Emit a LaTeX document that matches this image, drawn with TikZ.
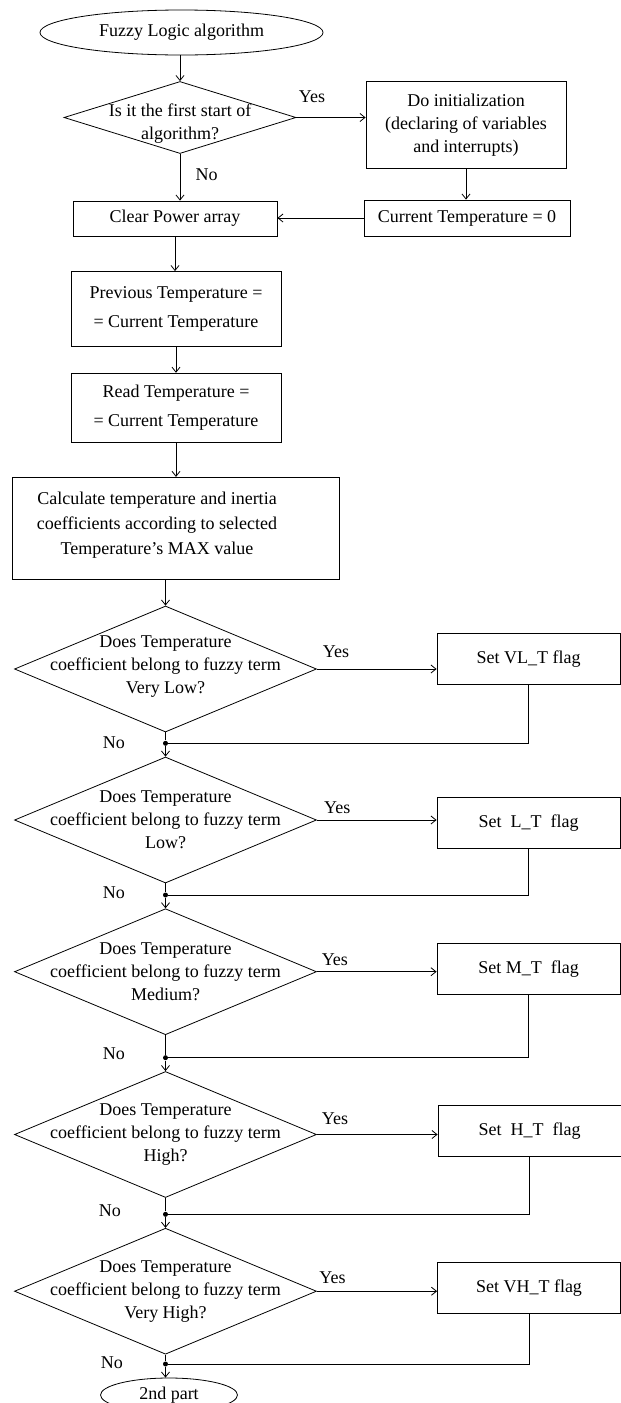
\documentclass[tikz,border=0pt]{standalone}
\usepackage{fontspec}
\setmainfont{Liberation Serif}
\usepackage{tikz}
\usetikzlibrary{shapes.geometric,positioning,arrows.meta}

\begin{document}
\begin{tikzpicture}[x=1pt,y=-1pt,line width=0.8pt,>={Straight Barb[length=5pt,width=8pt]}]%[show background grid]
\tikzstyle{every node} = [font=\fontsize{18}{23}\selectfont, align=center]
\tikzstyle{terminal} = [draw, ellipse, inner sep=0pt]
\tikzstyle{block} = [draw, rectangle, inner sep=0pt]
\tikzstyle{decision} = [draw, diamond, inner sep=0pt, minimum width=302pt, minimum height=126pt]
\tikzstyle{flagbox} = [draw, rectangle, inner sep=0pt, minimum width=183pt, minimum height=51pt]
\tikzstyle{junction} = [fill, circle, inner sep=0pt, minimum size=5pt]
\tikzstyle{twolines} = [font=\fontsize{18}{29}\selectfont]

\useasboundingbox (0,0) rectangle (621,1403);

% first part
\node (start) [terminal, minimum width=283pt, minimum height=45pt] at (181.5,32.5) {Fuzzy Logic algorithm};
\node (first) [decision, minimum width=232pt, minimum height=72pt] at (180,117.5) {};
\node (firsttext) at ([yshift=-6pt]first.center) {Is it the first start of\\algorithm?};
\node (init) [block, minimum width=200pt, minimum height=87pt] at (466,125) {Do initialization\\(declaring of variables\\and interrupts)};
\node (curtemp) [block, minimum width=206pt, minimum height=36pt] at (467,218) {Current Temperature = 0};
\node (clear) [block, minimum width=204pt, minimum height=35pt] at (175,218.5) {Clear Power array};
\node (prev) [block, twolines, minimum width=210pt, minimum height=75pt] at (176,309) {Previous Temperature =\\= Current Temperature};
\node (read) [block, twolines, minimum width=210pt, minimum height=69pt] at (176,407.7) {Read Temperature =\\= Current Temperature};
\node (calc) [block, minimum width=327pt, minimum height=102pt] at (176,528.3) {};
\node (calctext) [font=\fontsize{18}{25}\selectfont] at ([xshift=-19pt,yshift=3pt]calc.center) {Calculate temperature and inertia\\coefficients according to selected\\Temperature's MAX value};

\draw[->] (start.south -| first.north) -- (first.north);
\draw[->] (first.east) -- node (yes0) [pos=.225, yshift=21pt] {Yes} (first.east -| init.west);
\draw[->] (first.south) -- node (no0) [right=12pt, pos=.45] {No} (first.south |- clear.north);
\draw[->] (init.south) -- (init.south |- curtemp.north);
\draw[->] (curtemp.west) -- (curtemp.west -| clear.east);
\draw[->] (clear.south) -- (clear.south |- prev.north);
\draw[->] (prev.south) -- (read.north);
\draw[->] (read.south) -- (read.south |- calc.north);

% fuzzy terms
\node (dvl) [decision] at (165.5,669) {};
\node (tvl) at ([yshift=2pt]dvl.center) {Does Temperature\\coefficient belong to fuzzy term\\Very Low?};
\node (fvl) [flagbox] at (528.5,658.8) {Set VL\_T flag};
\node (j1) [junction] at (165.5,743.3) {};
\node (no1) [left=34pt of j1, yshift=1pt] {No};

\node (dl) [decision] at (165.5,820) {};
\node (tl) at (dl.center) {Does Temperature\\coefficient belong to fuzzy term\\Low?};
\node (fl) [flagbox] at (528.5,823) {Set\ \ L\_T\ \ flag};
\node (j2) [junction] at (165.5,895) {};
\node (no2) [left=34pt of j2, yshift=2pt] {No};

\node (dm) [decision] at (165.5,971.7) {};
\node (tm) at (dm.center) {Does Temperature\\coefficient belong to fuzzy term\\Medium?};
\node (fm) [flagbox] at (528.5,968.8) {Set M\_T\ \ flag};
\node (j3) [junction] at (165.5,1057.7) {};
\node (no3) [left=34pt of j3, yshift=4pt] {No};

\node (dh) [decision] at (165.5,1134.5) {};
\node (th) at (dh.center) {Does Temperature\\coefficient belong to fuzzy term\\High?};
\node (fh) [flagbox] at (529.5,1131.3) {Set\ \ H\_T\ \ flag};
\node (j4) [junction] at (165.5,1214.3) {};
\node (no4) [left=38pt of j4, yshift=4pt] {No};

\node (dvh) [decision] at (165.5,1291.2) {};
\node (tvh) at (dvh.center) {Does Temperature\\coefficient belong to fuzzy term\\Very High?};
\node (fvh) [flagbox] at (529,1288.3) {Set VH\_T flag};
\node (j5) [junction] at (165.5,1364) {};
\node (no5) [left=36pt of j5, yshift=1pt] {No};

\node (stop) [terminal, minimum width=137pt, minimum height=34pt] at (169,1395) {2nd part};

\draw[->] (calc.south -| dvl.north) -- (dvl.north);
\draw[->] (dvl.east) -- node (yes1) [pos=.16, yshift=17pt] {Yes} (dvl.east -| fvl.west);
\draw (dvl.south) -- (j1);
\draw (fvl.south) |- (j1);
\draw[->] (j1) -- (dl.north);

\draw[->] (dl.east) -- node (yes2) [pos=.17, yshift=12pt] {Yes} (dl.east -| fl.west);
\draw (dl.south) -- (j2);
\draw (fl.south) |- (j2);
\draw[->] (j2) -- (dm.north);

\draw[->] (dm.east) -- node (yes3) [pos=.15, yshift=12.5pt] {Yes} (dm.east -| fm.west);
\draw (dm.south) -- (j3);
\draw (fm.south) |- (j3);
\draw[->] (j3) -- (dh.north);

\draw[->] (dh.east) -- node (yes4) [pos=.15, yshift=15.5pt] {Yes} (dh.east -| fh.west);
\draw (dh.south) -- (j4);
\draw (fh.south) |- (j4);
\draw[->] (j4) -- (dvh.north);

\draw[->] (dvh.east) -- node (yes5) [pos=.13, yshift=14pt] {Yes} (dvh.east -| fvh.west);
\draw (dvh.south) -- (j5);
\draw (fvh.south) |- (j5);
\draw[->] (j5) -- (j5 |- stop.north);

\end{tikzpicture}
\end{document}
